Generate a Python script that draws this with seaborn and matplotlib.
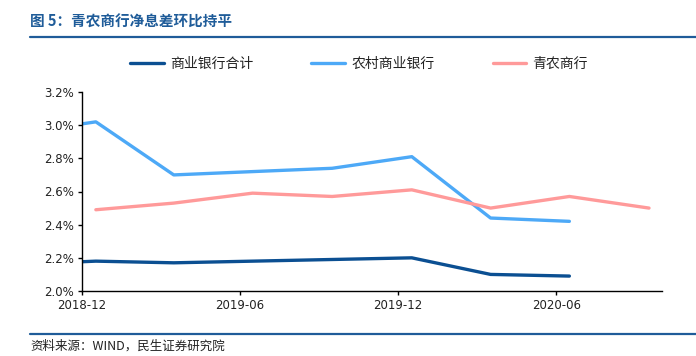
import matplotlib
matplotlib.use("Agg")
import matplotlib.pyplot as plt
import matplotlib.dates as mdates
from matplotlib.lines import Line2D
import seaborn as sns
import pandas as pd
import numpy as np

dates = ["2018-09-30", "2018-12-31", "2019-03-31", "2019-06-30", "2019-09-30",
         "2019-12-31", "2020-03-31", "2020-06-30", "2020-09-30"]
commercial_total = [2.16, 2.18, 2.17, 2.18, 2.19, 2.20, 2.10, 2.09, np.nan]
rural_commercial = [2.95, 3.02, 2.70, 2.72, 2.74, 2.81, 2.44, 2.42, np.nan]
qingnong = [np.nan, 2.49, 2.53, 2.59, 2.57, 2.61, 2.50, 2.57, 2.50]
series_names = ["商业银行合计", "农村商业银行", "青农商行"]
tick_dates = ["2018-12-15", "2019-06-15", "2019-12-15", "2020-06-15"]
tick_labels = ["2018-12", "2019-06", "2019-12", "2020-06"]
y_ticks = [2.0, 2.2, 2.4, 2.6, 2.8, 3.0, 3.2]
title = "图 5：青农商行净息差环比持平"
source = "资料来源：WIND，民生证券研究院"

colors = ["#0b4f92", "#4da9f7", "#ff9a9a"]

sns.set_style("white")
plt.rcParams['font.family'] = ['Noto Sans CJK SC', 'DejaVu Sans']

rows = []
for name, vals in zip(series_names, [commercial_total, rural_commercial, qingnong]):
    for d, v in zip(dates, vals):
        rows.append({"date": pd.Timestamp(d), "series": name, "value": v})
df = pd.DataFrame(rows).dropna()

fig = plt.figure(figsize=(6.96, 3.56), dpi=100)
ax = fig.add_axes([82/696, 1-291/356, (662-82)/696, (291-92)/356])

sns.lineplot(data=df, x="date", y="value", hue="series", hue_order=series_names,
             palette=colors, linewidth=2.4, ax=ax, legend=False, sort=True)

ax.set_xlim(pd.Timestamp("2018-12-15"), pd.Timestamp("2020-10-15"))
ax.set_ylim(2.0, 3.2)
ax.set_xticks([pd.Timestamp(t) for t in tick_dates])
ax.set_xticklabels(tick_labels, fontsize=8.5, family=['DejaVu Sans'])
ax.set_yticks(y_ticks)
ax.set_yticklabels([f"{v:.1f}%" for v in y_ticks], fontsize=8.5, family=['DejaVu Sans'])
ax.set_xlabel("")
ax.set_ylabel("")
for s in ["top", "right"]:
    ax.spines[s].set_visible(False)
for s in ["left", "bottom"]:
    ax.spines[s].set_color("black")
    ax.spines[s].set_linewidth(1.0)
ax.tick_params(axis="both", direction="out", length=3, width=1, color="black",
               left=True, bottom=True, pad=3, labelcolor="#222222")
ax.grid(False)

handles = [Line2D([0], [0], color=c, lw=2.4) for c in colors]
fig.legend(handles, series_names, loc="center", bbox_to_anchor=(359/696, 1-64/356),
           ncol=3, frameon=False, fontsize=10, handlelength=2.4, columnspacing=4.2,
           handletextpad=0.45, labelcolor="#222222")

fig.text(30/696, 1-22/356, title, fontsize=10.5, fontweight="bold", color="#1f5c99",
         va="center", ha="left")
fig.add_artist(Line2D([30/696, 1.0], [1-37/356, 1-37/356], color="#1f5c99", lw=1.6,
                      transform=fig.transFigure))
fig.add_artist(Line2D([30/696, 1.0], [1-334/356, 1-334/356], color="#1f5c99", lw=1.6,
                      transform=fig.transFigure))
fig.text(30/696, 1-346/356, source, fontsize=9, color="#222222", va="center", ha="left")

fig.savefig("out.png", dpi=100)
